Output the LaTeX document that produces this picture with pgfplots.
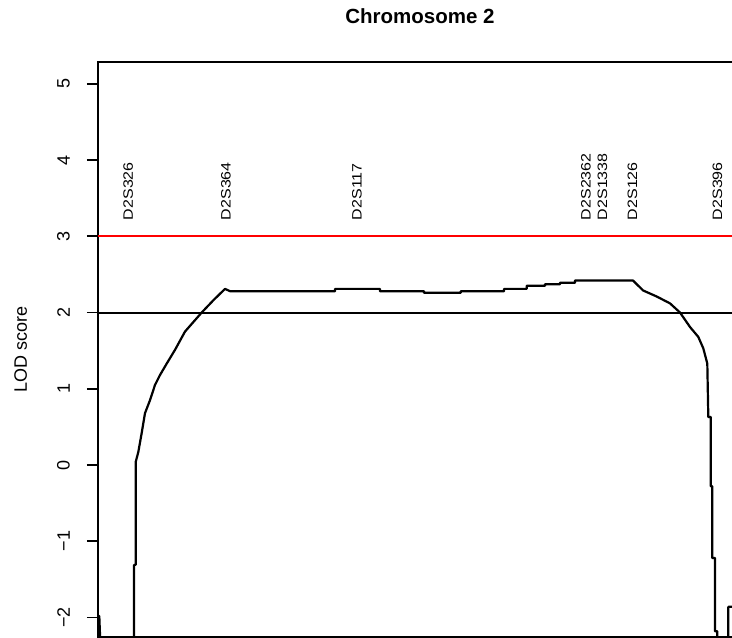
\documentclass[border=0pt]{standalone}
\usepackage{fontspec}
\setmainfont{Liberation Sans}
\usepackage{graphicx}
\usepackage{pgfplots}
\pgfplotsset{compat=1.18}
\usetikzlibrary{calc}

\newcommand{\marker}[2]{\node[rotate=90, anchor=west, inner sep=0pt,
  font=\fontsize{16bp}{18bp}\selectfont] at (axis cs:#1,3.21) {\scalebox{1}[0.85]{#2}};}

\begin{document}
\begin{tikzpicture}
\begin{axis}[
  name=ax,
  scale only axis,
  width=644bp, height=575.3bp,
  xmin=0, xmax=644,
  ymin=-2.256, ymax=5.29,
  xtick=\empty,
  ytick={-2,-1,0,1,2,3,4,5},
  yticklabels={−2,−1,0,1,2,3,4,5},
  ytick pos=left,
  tick align=outside,
  major tick length=11bp,
  tick style={line width=1.8bp, black},
  axis line style={line width=2bp, black},
  yticklabel style={xshift=-17bp, rotate=90, anchor=south, inner sep=0pt,
    font=\fontsize{18bp}{20bp}\selectfont},
  clip=true,
]
% LOD threshold lines
\addplot[red, line width=2bp] coordinates {(0,3) (644,3)};
\addplot[black, line width=2bp] coordinates {(0,2) (644,2)};
% LOD profile
\addplot[black, line width=2.2bp, line join=round] coordinates {
(0,-1.98) (1.3,-1.98) (2.5,-2.4) (3,-3) (36,-3) (36,-1.31) (37.7,-1.31)
(37.7,0.04) (40.3,0.17) (43.7,0.42) (47,0.68) (52,0.85) (57,1.05) (62,1.18)
(68.7,1.33) (77,1.51) (87,1.75) (103.7,2.0) (115.3,2.16) (127,2.31) (132,2.28)
(237,2.28) (237,2.31) (282,2.31) (282,2.28) (326,2.28) (326,2.26) (362.7,2.26)
(362.7,2.28) (406,2.28) (406,2.31) (428.7,2.31) (428.7,2.35) (447,2.35)
(447,2.37) (462,2.37) (462,2.39) (477,2.39) (477,2.42) (535,2.42) (545,2.29)
(558.7,2.21) (572,2.12) (582,2.0) (592,1.81) (600.3,1.68) (605.3,1.53)
(609.3,1.33) (610.3,0.63) (612.7,0.63) (612.7,-0.28) (614.3,-0.28)
(614.3,-1.22) (617,-1.22) (617,-2.18) (619.3,-2.18) (619.3,-3) (630.3,-3)
(630.3,-1.86) (644,-1.86)
};
\marker{30.3}{D2S326}
\marker{128}{D2S364}
\marker{259}{D2S117}
\marker{488}{D2S2362}
\marker{504.5}{D2S1338}
\marker{534.5}{D2S126}
\marker{619.5}{D2S396}
\end{axis}
\node[anchor=base, font=\bfseries\fontsize{20.5bp}{23bp}\selectfont]
  at ($(ax.north)+(0,38.4bp)$) {Chromosome 2};
\node[rotate=90, anchor=base, font=\fontsize{18bp}{20bp}\selectfont]
  at ($(ax.west)+(-71bp,0)$) {LOD score};
\pgfresetboundingbox
\path[use as bounding box] ($(ax.south west)+(-98bp,-1bp)$) rectangle ($(ax.south west)+(634bp,637bp)$);
\end{tikzpicture}
\end{document}
